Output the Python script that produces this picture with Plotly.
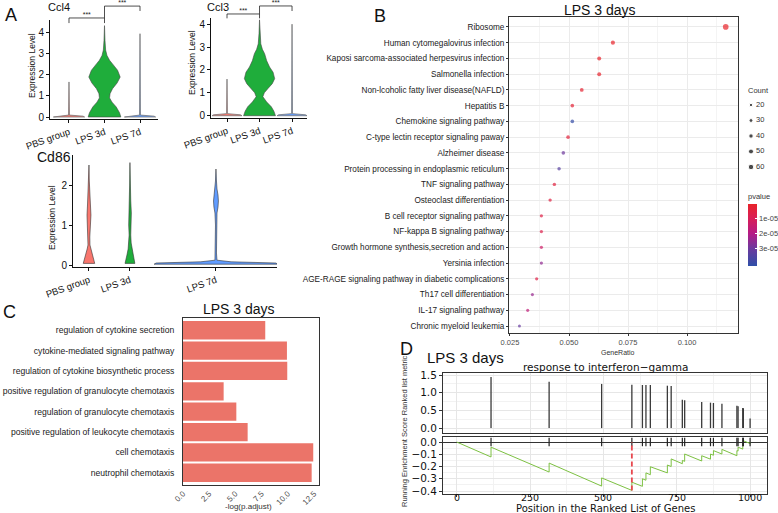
import plotly.graph_objects as go

W, H = 778, 513


def dx(a, b):
    return [a / W, b / W]


def dy(top, bot):
    return [1 - bot / H, 1 - top / H]


def px(x):
    return x / W


def py(y):
    return 1 - y / H


ARIAL = "Liberation Sans, Arial, Helvetica, sans-serif"
DEJAVU = "DejaVu Sans, Verdana, sans-serif"

# ======================= DATA =======================
# ---- Panel A : violin plots ----
groups = ["PBS group", "LPS 3d", "LPS 7d"]
group_colors = ["#F8766D", "#1FAD3B", "#619CFF"]

# Ccl4 (y = expression level, w = relative density width)
ccl4_pbs_y = [0, 0.04, 0.09, 1.65]
ccl4_pbs_w = [1, 0.9, 0.03, 0]
ccl4_lps3_y = [0, 0.2, 0.47, 0.7, 0.9, 1.1, 1.33, 1.6, 1.88, 2.2, 2.5, 2.67, 2.9, 3.15, 3.6, 4.3]
ccl4_lps3_w = [1, 0.92, 0.72, 0.46, 0.31, 0.34, 0.49, 0.77, 0.96, 0.8, 0.49, 0.31, 0.15, 0.07, 0.03, 0]
ccl4_lps7_y = [0, 0.04, 0.09, 3.92]
ccl4_lps7_w = [1, 0.9, 0.03, 0]

# Ccl3
ccl3_pbs_y = [0, 0.04, 0.09, 1.6]
ccl3_pbs_w = [1, 0.9, 0.03, 0]
ccl3_lps3_y = [0, 0.2, 0.39, 0.6, 0.83, 1.0, 1.19, 1.4, 1.62, 1.9, 2.13, 2.4, 2.71, 2.9, 3.14, 3.6, 4.19]
ccl3_lps3_w = [1, 0.9, 0.74, 0.45, 0.21, 0.3, 0.53, 0.8, 0.95, 0.85, 0.63, 0.45, 0.32, 0.18, 0.08, 0.03, 0]
ccl3_lps7_y = [0, 0.04, 0.09, 4.0]
ccl3_lps7_w = [1, 0.9, 0.03, 0]

# Cd86 (half widths in x-axis units)
cd86_pos = [1, 2, 4.1]
cd86_pbs_y = [0.04, 0.1, 0.25, 0.4, 0.5, 0.7, 1.0, 1.25, 1.5, 1.8, 2.1, 2.5]
cd86_pbs_w = [0.14, 0.125, 0.085, 0.044, 0.024, 0.02, 0.036, 0.048, 0.036, 0.015, 0.008, 0]
cd86_lps3_y = [0.04, 0.1, 0.25, 0.4, 0.55, 0.75, 1.0, 1.3, 1.6, 2.0, 2.56]
cd86_lps3_w = [0.12, 0.11, 0.073, 0.044, 0.03, 0.02, 0.03, 0.034, 0.02, 0.008, 0]
cd86_lps7_y = [0.02, 0.05, 0.08, 0.12, 0.3, 1.0, 1.3, 1.45, 1.6, 1.75, 1.9, 2.1, 2.4]
cd86_lps7_w = [1.51, 1.46, 0.37, 0.025, 0.012, 0.012, 0.025, 0.05, 0.06, 0.05, 0.025, 0.012, 0]

# significance brackets: (group a, group b), bar height, left drop end, right drop end
ccl4_pairs = [(1, 2), (2, 3)]
ccl4_bar_y = [4.66, 5.22]
ccl4_drop_l = [4.42, 4.66]
ccl4_drop_r = [4.42, 4.99]
ccl3_pairs = [(1, 2), (2, 3)]
ccl3_bar_y = [4.44, 4.79]
ccl3_drop_l = [4.25, 4.44]
ccl3_drop_r = [4.25, 4.57]
sig_label = "***"

# ---- Panel B : KEGG dot plot ----
kegg_terms = [
    "Ribosome",
    "Human cytomegalovirus infection",
    "Kaposi sarcoma-associated herpesvirus infection",
    "Salmonella infection",
    "Non-lcoholic fatty liver disease(NAFLD)",
    "Hepatitis B",
    "Chemokine signaling pathway",
    "C-type lectin receptor signaling paway",
    "Alzheimer disease",
    "Protein processing in endoplasmic reticulum",
    "TNF signaling pathway",
    "Osteoclast differentiation",
    "B cell receptor signaling pathway",
    "NF-kappa B signaling pathway",
    "Growth hormone synthesis,secretion and action",
    "Yersinia infection",
    "AGE-RAGE signaling pathway in diabetic complications",
    "Th17 cell differentiation",
    "IL-17 signaling pathway",
    "Chronic myeloid leukemia",
]
gene_ratio = [0.1164, 0.0686, 0.0628, 0.0628, 0.0554, 0.0514, 0.0514, 0.0496, 0.0476, 0.0458,
              0.0438, 0.0420, 0.0383, 0.0383, 0.0383, 0.0383, 0.0363, 0.0345, 0.0325, 0.0290]
gene_count = [62, 36, 33, 33, 29, 27, 27, 26, 25, 24, 23, 22, 20, 20, 20, 20, 19, 18, 17, 15]
pvalue = [1e-10, 2e-7, 5e-7, 6e-7, 1.5e-6, 2.5e-6, 4.1e-5, 3.5e-6, 3.0e-5, 3.4e-5,
          4.5e-6, 5e-6, 6e-6, 7e-6, 1.3e-5, 2.5e-5, 6e-6, 2.4e-5, 1.7e-5, 3.1e-5]
legend_counts = [20, 30, 40, 50, 60]
pvalue_ticks = [1e-5, 2e-5, 3e-5]
pvalue_ticktext = ["1e-05", "2e-05", "3e-05"]
ratio_ticks = [0.025, 0.050, 0.075, 0.100]
ratio_ticktext = ["0.025", "0.050", "0.075", "0.100"]

# ---- Panel C : GO bar chart ----
go_terms = [
    "regulation of cytokine secretion",
    "cytokine-mediated signaling pathway",
    "regulation of cytokine biosynthetic process",
    "positive regulation of granulocyte chemotaxis",
    "regulation of granulocyte chemotaxis",
    "positive regulation of leukocyte chemotaxis",
    "cell chemotaxis",
    "neutrophil chemotaxis",
]
neg_log_padj = [7.85, 9.92, 9.95, 3.88, 5.09, 6.17, 12.43, 12.28]

# ---- Panel D : GSEA plot ----
hit_positions = [117, 315, 494, 597, 633, 645, 660, 718, 731, 769, 777, 835, 865, 875, 904, 955, 959, 975, 977, 1000]
hit_metric = [1.45, 1.31, 1.25, 1.23, 1.22, 1.22, 1.22, 1.2, 1.19, 0.8, 0.79, 0.74, 0.72, 0.71, 0.69, 0.63, 0.62,
              0.57, 0.56, 0.27]
es_x = [0, 117, 117, 315, 315, 494, 494, 597, 597, 633, 633, 645, 645, 660, 660, 718, 718, 731, 731, 769, 769,
        777, 777, 835, 835, 865, 865, 875, 875, 904, 904, 955, 955, 959, 959, 975, 975, 977, 977, 1000, 1000]
es_y = [0, -0.122, -0.042, -0.245, -0.172, -0.360, -0.293, -0.395, -0.328, -0.362, -0.300, -0.312, -0.252,
        -0.267, -0.202, -0.252, -0.188, -0.200, -0.138, -0.177, -0.150, -0.158, -0.098, -0.155, -0.112,
        -0.140, -0.098, -0.108, -0.070, -0.098, -0.060, -0.112, -0.070, -0.074, -0.042, -0.058, -0.008,
        -0.010, 0.010, -0.012, 0.0]
position_ticks = [0, 250, 500, 750, 1000]

# ======================= FIGURE =======================
fig = go.Figure()


def violin(xc, ys, ws, scale):
    xr = [xc + w * scale for w in ws]
    xl = [xc - w * scale for w in ws]
    return xr + xl[::-1] + [xr[0]], list(ys) + list(ys)[::-1] + [ys[0]]


def add_violin(xc, ys, ws, scale, fill, outline, lw, xa, ya):
    vx, vy = violin(xc, ys, ws, scale)
    fig.add_trace(go.Scatter(x=vx, y=vy, mode="lines", fill="toself", fillcolor=fill,
                             line=dict(color=outline, width=lw), xaxis=xa, yaxis=ya,
                             hoverinfo="skip", showlegend=False))


def add_brackets(pairs, bar_y, dl, dr, xa, ya, star_dy):
    for (a, b), yb, l, r in zip(pairs, bar_y, dl, dr):
        fig.add_trace(go.Scatter(x=[a, a, b, b], y=[l, yb, yb, r], mode="lines",
                                 line=dict(color="#222", width=0.8), xaxis=xa, yaxis=ya,
                                 hoverinfo="skip", showlegend=False))
        fig.add_trace(go.Scatter(x=[(a + b) / 2], y=[yb + star_dy], mode="text", text=[sig_label],
                                 textfont=dict(size=7, color="#222", family=ARIAL), xaxis=xa, yaxis=ya,
                                 hoverinfo="skip", showlegend=False, cliponaxis=False))


# Ccl4 (x/y), brackets (x2/y2)
add_violin(1, ccl4_pbs_y, ccl4_pbs_w, 0.44, group_colors[0], "#777", 0.8, "x", "y")
add_violin(2, ccl4_lps3_y, ccl4_lps3_w, 0.46, group_colors[1], "#444", 0.6, "x", "y")
add_violin(3, ccl4_lps7_y, ccl4_lps7_w, 0.44, group_colors[2], "#777", 0.8, "x", "y")
add_brackets(ccl4_pairs, ccl4_bar_y, ccl4_drop_l, ccl4_drop_r, "x2", "y2", 0.14)

# Ccl3 (x3/y3), brackets (x4/y4)
add_violin(1, ccl3_pbs_y, ccl3_pbs_w, 0.46, group_colors[0], "#777", 0.8, "x3", "y3")
add_violin(2, ccl3_lps3_y, ccl3_lps3_w, 0.49, group_colors[1], "#444", 0.6, "x3", "y3")
add_violin(3, ccl3_lps7_y, ccl3_lps7_w, 0.46, group_colors[2], "#777", 0.8, "x3", "y3")
add_brackets(ccl3_pairs, ccl3_bar_y, ccl3_drop_l, ccl3_drop_r, "x4", "y4", 0.14)

# Cd86 (x5/y5)
add_violin(cd86_pos[0], cd86_pbs_y, cd86_pbs_w, 1.0, group_colors[0], "#333", 0.6, "x5", "y5")
add_violin(cd86_pos[1], cd86_lps3_y, cd86_lps3_w, 1.0, group_colors[1], "#333", 0.6, "x5", "y5")
add_violin(cd86_pos[2], cd86_lps7_y, cd86_lps7_w, 1.0, group_colors[2], "#333", 0.6, "x5", "y5")

# Panel B dots (x6/y6)
neg_p = [-p for p in pvalue]
dot_size = [3 + (c - 15) / 45 * 2.5 for c in gene_count]
pcolors = [[0, "#2F4FA8"], [0.28, "#6B3A9E"], [0.52, "#B51B86"], [0.78, "#DA1F55"], [1, "#E8232A"]]
fig.add_trace(go.Scatter(
    x=gene_ratio, y=kegg_terms, mode="markers", xaxis="x6", yaxis="y6",
    marker=dict(size=dot_size, color=neg_p, colorscale=pcolors, cmin=-4.2e-5, cmax=0,
                line=dict(width=0), showscale=True,
                colorbar=dict(x=px(748), xanchor="left", y=py(266), yanchor="bottom",
                              len=76, lenmode="pixels", thickness=9, thicknessmode="pixels",
                              outlinewidth=0, xpad=0, ypad=0,
                              tickvals=[-t for t in pvalue_ticks], ticktext=pvalue_ticktext,
                              ticks="inside", tickcolor="white", ticklen=2,
                              tickfont=dict(size=7.5, family=ARIAL, color="#444"),
                              title=dict(text="pvalue", side="top",
                                         font=dict(size=7.5, family=ARIAL, color="#333")))),
    hoverinfo="skip", showlegend=False))

# Count legend (x7/y7)
fig.add_trace(go.Scatter(
    x=[6] * len(legend_counts), y=legend_counts, mode="markers", xaxis="x7", yaxis="y7",
    marker=dict(size=[3 + (c - 15) / 45 * 2.5 for c in legend_counts], color="black"),
    hoverinfo="skip", showlegend=False, cliponaxis=False))
fig.add_trace(go.Scatter(
    x=[11] * len(legend_counts), y=legend_counts, mode="text", xaxis="x7", yaxis="y7",
    text=[str(c) for c in legend_counts], textposition="middle right",
    textfont=dict(size=7.5, family=ARIAL, color="#333"), hoverinfo="skip", showlegend=False,
    cliponaxis=False))

# Panel C bars (x8/y8)
fig.add_trace(go.Bar(x=neg_log_padj, y=go_terms, orientation="h", xaxis="x8", yaxis="y8",
                     marker=dict(color="#EB7469", line=dict(width=0)), hoverinfo="skip",
                     showlegend=False))

# Panel D top: ranked list metric (x9/y9)
seg_x, seg_y = [], []
for p, m in zip(hit_positions, hit_metric):
    seg_x += [p, p, None]
    seg_y += [0, m, None]
fig.add_trace(go.Scatter(x=seg_x, y=seg_y, mode="lines", line=dict(color="#3a3a3a", width=1.3),
                         xaxis="x9", yaxis="y9", hoverinfo="skip", showlegend=False))

# Panel D bottom: running ES (x10/y10)
fig.add_trace(go.Scatter(x=es_x, y=es_y, mode="lines", line=dict(color="#7DC142", width=1),
                         xaxis="x10", yaxis="y10", hoverinfo="skip", showlegend=False))
fig.add_trace(go.Scatter(x=hit_positions, y=[0] * len(hit_positions), mode="markers",
                         marker=dict(symbol="line-ns", size=6, line=dict(color="#222", width=1.2)),
                         xaxis="x10", yaxis="y10", hoverinfo="skip", showlegend=False))
es_min = min(es_y)
es_min_x = es_x[es_y.index(es_min)]
fig.add_shape(type="line", x0=es_min_x, x1=es_min_x, y0=es_min, y1=0, xref="x10", yref="y10",
              line=dict(color="#E8474E", width=1.8, dash="5px,3px"))

# ======================= AXES =======================
tickA = dict(size=9.5, family=ARIAL, color="#111")
axA = dict(showline=True, linecolor="#111", linewidth=1, ticks="outside", ticklen=3, tickcolor="#111",
           showgrid=False, zeroline=False)
hidden = dict(visible=False, showgrid=False, zeroline=False)

layout_axes = dict(
    # Ccl4
    xaxis=dict(domain=dx(50, 158), range=[0.465, 3.507], anchor="y", tickvals=[1, 2, 3], ticktext=groups,
               tickangle=-20, tickfont=tickA, **axA),
    yaxis=dict(domain=dy(20, 119), range=[-0.094, 4.565], anchor="x", tickvals=[0, 1, 2, 3, 4],
               tickfont=dict(size=10, family=ARIAL, color="#111"), **axA),
    xaxis2=dict(domain=dx(50, 158), range=[0.465, 3.507], anchor="y2", **hidden),
    yaxis2=dict(domain=dy(0, 119), range=[-0.094, 5.506], anchor="x2", **hidden),
    # Ccl3
    xaxis3=dict(domain=dx(211, 307), range=[0.508, 3.46], anchor="y3", tickvals=[1, 2, 3], ticktext=groups,
                tickangle=-20, tickfont=tickA, **axA),
    yaxis3=dict(domain=dy(18, 118), range=[-0.1, 4.27], anchor="x3", tickvals=[0, 1, 2, 3, 4],
                tickfont=dict(size=10, family=ARIAL, color="#111"), **axA),
    xaxis4=dict(domain=dx(211, 307), range=[0.508, 3.46], anchor="y4", **hidden),
    yaxis4=dict(domain=dy(0, 118), range=[-0.1, 5.05], anchor="x4", **hidden),
    # Cd86
    xaxis5=dict(domain=dx(73, 277), range=[0.61, 5.59], anchor="y5", tickvals=cd86_pos, ticktext=groups,
                tickangle=-20, tickfont=tickA, **axA),
    yaxis5=dict(domain=dy(155, 267), range=[-0.05, 2.75], anchor="x5", tickvals=[0, 1, 2],
                tickfont=dict(size=10, family=ARIAL, color="#111"), **axA),
    # Panel B
    xaxis6=dict(domain=dx(509, 738), range=[0.02458, 0.1216], anchor="y6", tickvals=ratio_ticks,
                ticktext=ratio_ticktext, tickfont=dict(size=7.5, family=ARIAL, color="#4d4d4d"),
                showline=True, mirror=True, linecolor="#333", linewidth=1, ticks="outside", ticklen=2,
                tickcolor="#333", showgrid=True, gridcolor="#EBEBEB", gridwidth=0.8, zeroline=False,
                minor=dict(tickvals=[0.0375, 0.0625, 0.0875, 0.1125], showgrid=True,
                           gridcolor="#F4F4F4", gridwidth=0.5)),
    yaxis6=dict(domain=dy(16.7, 333), range=[19.44, -0.65], anchor="x6", type="category",
                categoryorder="array", categoryarray=kegg_terms,
                tickfont=dict(size=8.2, family=ARIAL, color="#1a1a1a"),
                showline=True, mirror=True, linecolor="#333", linewidth=1, ticks="outside", ticklen=2,
                tickcolor="#333", showgrid=True, gridcolor="#EBEBEB", gridwidth=0.8, zeroline=False),
    xaxis7=dict(domain=dx(745, 778), range=[0, 33], anchor="y7", **hidden),
    yaxis7=dict(domain=dy(97, 175), range=[65.16, 14.84], anchor="x7", **hidden),
    # Panel C
    xaxis8=dict(domain=dx(183, 319), range=[0, 12.98], anchor="y8", tickvals=[0, 2.5, 5, 7.5, 10, 12.5],
                ticktext=["0.0", "2.5", "5.0", "7.5", "10.0", "12.5"], tickangle=-45,
                tickfont=dict(size=8, family=ARIAL, color="#4d4d4d"), showline=True, mirror=True,
                linecolor="#333", linewidth=1, ticks="", showgrid=False, zeroline=False),
    yaxis8=dict(domain=dy(318, 485), range=[7.6, -0.6], anchor="x8", type="category",
                categoryorder="array", categoryarray=go_terms, ticklabelstandoff=6,
                tickfont=dict(size=8.6, family=ARIAL, color="#1a1a1a"), showline=True, mirror=True,
                linecolor="#333", linewidth=1, ticks="", showgrid=False, zeroline=False),
    # Panel D top
    xaxis9=dict(domain=dx(443, 767), range=[-46.7, 1057.6], anchor="y9", showticklabels=False,
                tickvals=position_ticks, ticks="", showline=True, mirror=True, linecolor="#333",
                linewidth=1, showgrid=True, gridcolor="#E6E6E6", gridwidth=0.8, zeroline=False,
                minor=dict(tickvals=[125, 375, 625, 875], showgrid=True, gridcolor="#F2F2F2", gridwidth=0.5)),
    yaxis9=dict(domain=dy(373, 433), range=[-0.14, 1.56], anchor="x9", tickvals=[0, 0.5, 1.0, 1.5],
                ticktext=["0.0", "0.5", "1.0", "1.5"], tickfont=dict(size=10.5, family=DEJAVU, color="#111"),
                ticks="outside", ticklen=3, tickcolor="#333", showline=True, mirror=True, linecolor="#333",
                linewidth=1, showgrid=True, gridcolor="#E6E6E6", gridwidth=0.8, zeroline=False,
                minor=dict(tickvals=[0.25, 0.75, 1.25], showgrid=True, gridcolor="#F2F2F2", gridwidth=0.5)),
    # Panel D bottom
    xaxis10=dict(domain=dx(443, 767), range=[-46.7, 1057.6], anchor="y10", tickvals=position_ticks,
                 showticklabels=False, ticks="outside", ticklen=2,
                 tickcolor="#333", showline=True, mirror=True, linecolor="#333", linewidth=1, showgrid=True,
                 gridcolor="#E6E6E6", gridwidth=0.8, zeroline=False,
                 minor=dict(tickvals=[125, 375, 625, 875], showgrid=True, gridcolor="#F2F2F2", gridwidth=0.5)),
    yaxis10=dict(domain=dy(437, 494), range=[-0.4245, 0.041], anchor="x10",
                 tickvals=[0, -0.1, -0.2, -0.3, -0.4], ticktext=["0.0", "\u22120.1", "\u22120.2", "\u22120.3", "\u22120.4"],
                 tickfont=dict(size=10.5, family=DEJAVU, color="#111"), ticks="outside", ticklen=3,
                 tickcolor="#333", showline=True, mirror=True, linecolor="#333", linewidth=1, showgrid=True,
                 gridcolor="#E6E6E6", gridwidth=0.8, zeroline=True, zerolinecolor="#333", zerolinewidth=1.2,
                 minor=dict(tickvals=[-0.05, -0.15, -0.25, -0.35], showgrid=True, gridcolor="#F2F2F2",
                            gridwidth=0.5)),
)


def ann(text, x, y, size, family=ARIAL, xanchor="center", yanchor="middle", angle=0, color="#111"):
    return dict(text=text, x=px(x), y=py(y), xref="paper", yref="paper", showarrow=False,
                xanchor=xanchor, yanchor=yanchor, textangle=angle, borderpad=0,
                font=dict(size=size, family=family, color=color))


annotations = [
    ann("A", 4, 15, 18, xanchor="left"),
    ann("Ccl4", 47, 7, 11, xanchor="left"),
    ann("Ccl3", 206, 7, 11, xanchor="left"),
    ann("Cd86", 36, 157, 14, xanchor="left"),
    ann("Expression Level", 32, 65, 8.5, angle=-90),
    ann("Expression Level", 192, 63, 8.5, angle=-90),
    ann("Expression Level", 52, 217, 8.5, angle=-90),
    ann("B", 373, 16, 18, xanchor="left"),
    ann("LPS 3 days", 600, 10, 14),
    ann("GeneRatio", 618, 352, 7, color="#333"),
    ann("Count", 747, 90, 7.5, xanchor="left", color="#333"),
    ann("C", 2, 312, 18, xanchor="left"),
    ann("LPS 3 days", 239, 309, 14),
    ann("-log(p.adjust)", 248, 506, 8, color="#333"),
    ann("D", 399, 349, 18, xanchor="left"),
    ann("LPS 3 days", 426, 357, 15, xanchor="left"),
    ann("response to interferon\u2212gamma", 605, 367, 10.5, family=DEJAVU),
    ann("Running Enrichment Score Ranked list metric", 404, 431, 7.5, family=ARIAL, angle=-90, color="#333"),
    ann("Position in the Ranked List of Genes", 605, 508.5, 10, family=DEJAVU),
]
# x tick labels of the GSEA panel, placed tight under the axis (x in data units)
for t in position_ticks:
    annotations.append(dict(text=str(t), x=t, xref="x10", y=py(497), yref="paper", showarrow=False,
                            xanchor="center", yanchor="middle", borderpad=0,
                            font=dict(size=9.5, family=DEJAVU, color="#111")))

fig.update_layout(
    width=W, height=H, autosize=False,
    margin=dict(l=0, r=0, t=0, b=0, autoexpand=False),
    paper_bgcolor="white", plot_bgcolor="rgba(0,0,0,0)",
    showlegend=False, bargap=0.1,
    annotations=annotations,
    **layout_axes,
)

fig.write_html("out.html", config={"displayModeBar": False},
               post_script="document.body.style.margin='0px';document.body.style.padding='0px';"
                           "document.body.style.overflow='hidden';")
